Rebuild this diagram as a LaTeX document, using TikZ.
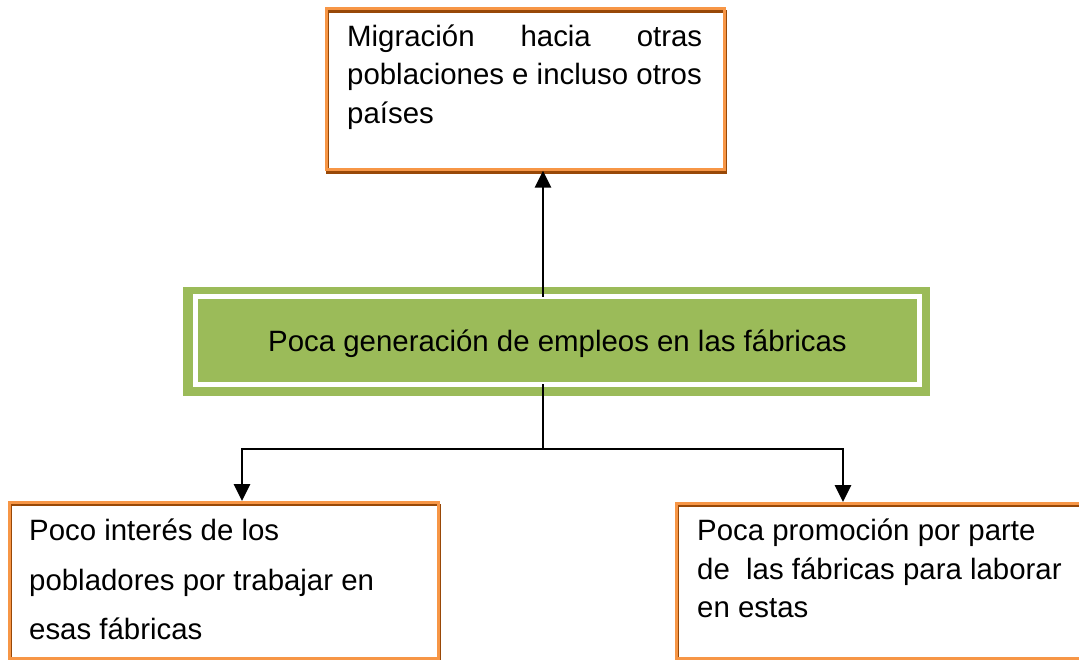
\documentclass[tikz,border=0pt]{standalone}
\usepackage{fontspec}
\setmainfont{Liberation Sans}
\usetikzlibrary{arrows.meta}
\definecolor{orangeline}{HTML}{F79646}
\definecolor{brownline}{HTML}{984807}
\definecolor{greenfill}{HTML}{9BBB59}
\tikzset{
  orangebox/.style={draw=orangeline, line width=2.7pt},
  brownbox/.style={draw=brownline, line width=2.7pt},
  txt/.style={anchor=base west, inner sep=0pt, font=\fontsize{29.4}{35}\selectfont},
  arr/.style={line width=2.8pt, -{Triangle[width=16pt,length=17pt]}},
  conn/.style={line width=2.8pt},
}
\begin{document}
\begin{tikzpicture}[x=1pt,y=-1pt]
\useasboundingbox (0,0) rectangle (1079,660);
% top box
\draw[brownbox] (327.5,11.5) rectangle (725.5,172.5);
\node[orangebox, anchor=north west, minimum width=398pt, minimum height=161pt, inner sep=0pt] (topbox) at (325,7) {};
\node[txt] (t1) at (347,47) {\makebox[355pt][s]{Migración hacia otras}};
\node[txt] (t2) at (347,85) {poblaciones e incluso otros};
\node[txt] (t3) at (347,124) {países};
% green box
\node[fill=greenfill, anchor=north west, minimum width=747pt, minimum height=109pt, inner sep=0pt] (green) at (183,287) {};
\draw[white, line width=5pt] (195.2,297) rectangle (919.2,384.5);
\node[anchor=base, inner sep=0pt, font=\fontsize{29.4}{35}\selectfont] (gtext) at (557.5,352) {Poca generación de empleos en las fábricas};
% bottom left box
\draw[brownbox] (10.5,505) rectangle (439.5,661);
\node[orangebox, anchor=north west, minimum width=429pt, minimum height=156pt, inner sep=0pt] (lbox) at (8,501) {};
\node[txt] (l1) at (29,540) {Poco interés de los};
\node[txt] (l2) at (29,590) {pobladores por trabajar en};
\node[txt] (l3) at (29,639) {esas fábricas};
% bottom right box
\draw[brownbox] (678,506) rectangle (1095,661);
\node[orangebox, anchor=north west, minimum width=417pt, minimum height=155pt, inner sep=0pt] (rbox) at (675,502) {};
\node[txt] (r1) at (697,540) {Poca promoción por parte};
\node[txt] (r2) at (697,579) {de\ \ las fábricas para laborar};
\node[txt] (r3) at (697,617) {en estas};
% connectors
\coordinate (gt) at (543,297);
\coordinate (gb) at (543,384);
\coordinate (split) at (543,449);
\draw[arr] (gt) -- (gt |- topbox.south);
\draw[conn] (gb) -- (split);
\draw[arr] (split) -| (lbox.north -| 242,0);
\draw[arr] (split) -| (rbox.north -| 843,0);
\end{tikzpicture}
\end{document}
